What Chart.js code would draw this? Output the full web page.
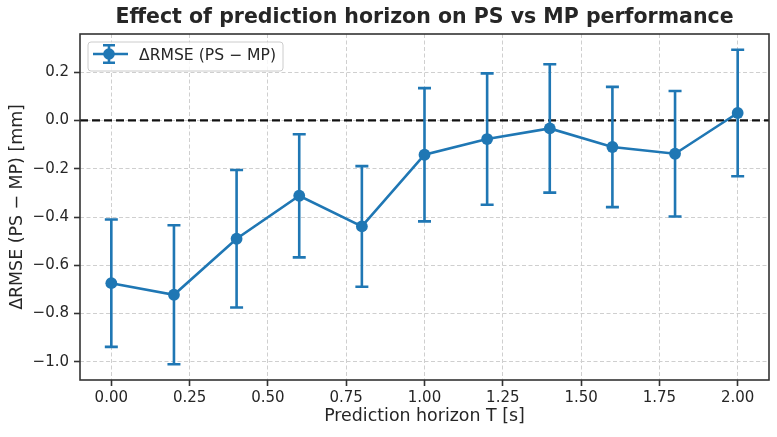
<!DOCTYPE html>
<html>
<head>
<meta charset="utf-8">
<script src="https://cdn.jsdelivr.net/npm/chart.js@4.4.1/dist/chart.umd.min.js"></script>
<style>
  body { margin: 0; background: #fff; }
  #wrap { width: 777px; height: 437px; }
</style>
</head>
<body>
<div id="wrap"><canvas id="chart" width="777" height="437"></canvas></div>
<script>
// prediction horizon T [s]
const horizon = [0.0, 0.2, 0.4, 0.6, 0.8, 1.0, 1.2, 1.4, 1.6, 1.8, 2.0];
// mean dRMSE (PS - MP) [mm]
const dRmse = [-0.674, -0.722, -0.490, -0.312, -0.439, -0.142, -0.077, -0.033, -0.110, -0.138, 0.031];
// error bar half-lengths
const dRmseErr = [0.264, 0.288, 0.285, 0.255, 0.250, 0.276, 0.272, 0.266, 0.249, 0.260, 0.262];

const xTicks = [0.0, 0.25, 0.5, 0.75, 1.0, 1.25, 1.5, 1.75, 2.0];
const yTicks = [-1.0, -0.8, -0.6, -0.4, -0.2, 0.0, 0.2];

const titleText = 'Effect of prediction horizon on PS vs MP performance';
const xLabel = 'Prediction horizon T [s]';
const yLabel = 'ΔRMSE (PS − MP) [mm]';
const legendText = 'ΔRMSE (PS − MP)';

const blue = '#1f77b4';
const font = "'DejaVu Sans', sans-serif";

// axis limits with matplotlib-like 5% margins
const lo = Math.min(...dRmse.map((v, i) => v - dRmseErr[i]));
const hi = Math.max(...dRmse.map((v, i) => v + dRmseErr[i]));
const yPad = (hi - lo) * 0.05;
const xPad = (horizon[horizon.length - 1] - horizon[0]) * 0.05;

const points = horizon.map((t, i) => ({ x: t, y: dRmse[i] }));

const extras = {
  id: 'extras',
  beforeDatasetsDraw(chart) {
    const { ctx, chartArea: a, scales: { x, y } } = chart;
    ctx.save();
    // zero reference line
    const y0 = y.getPixelForValue(0);
    ctx.strokeStyle = '#111';
    ctx.lineWidth = 2.2;
    ctx.setLineDash([8, 4]);
    ctx.beginPath();
    ctx.moveTo(a.left, y0);
    ctx.lineTo(a.right, y0);
    ctx.stroke();
    ctx.setLineDash([]);
    // error bars
    ctx.strokeStyle = blue;
    ctx.lineWidth = 2.6;
    horizon.forEach((t, i) => {
      const px = x.getPixelForValue(t);
      const top = y.getPixelForValue(dRmse[i] + dRmseErr[i]);
      const bot = y.getPixelForValue(dRmse[i] - dRmseErr[i]);
      ctx.beginPath();
      ctx.moveTo(px, top); ctx.lineTo(px, bot);
      ctx.moveTo(px - 6.5, top); ctx.lineTo(px + 6.5, top);
      ctx.moveTo(px - 6.5, bot); ctx.lineTo(px + 6.5, bot);
      ctx.stroke();
    });
    ctx.restore();
  },
  afterDraw(chart) {
    const { ctx, chartArea: a } = chart;
    ctx.save();
    // frame
    ctx.strokeStyle = '#333';
    ctx.lineWidth = 1.6;
    ctx.strokeRect(a.left, a.top, a.right - a.left, a.bottom - a.top);

    // title
    ctx.fillStyle = '#262626';
    ctx.textAlign = 'center';
    ctx.textBaseline = 'middle';
    ctx.font = 'bold 20.5px ' + font;
    ctx.fillText(titleText, (a.left + a.right) / 2, 18);

    // axis labels
    ctx.font = '17.4px ' + font;
    ctx.fillText(xLabel, (a.left + a.right) / 2, 416);
    ctx.translate(17, (a.top + a.bottom) / 2);
    ctx.rotate(-Math.PI / 2);
    ctx.fillText(yLabel, 0, 0);
    ctx.restore();

    // legend
    ctx.save();
    const lx = a.left + 8, ly = a.top + 8, lw = 195, lh = 29;
    ctx.fillStyle = 'rgba(255,255,255,0.8)';
    ctx.strokeStyle = '#cccccc';
    ctx.lineWidth = 1;
    ctx.beginPath();
    ctx.roundRect(lx, ly, lw, lh, 3);
    ctx.fill();
    ctx.stroke();
    const cy = ly + 12, cx = lx + 21;
    ctx.strokeStyle = blue;
    ctx.lineWidth = 2.6;
    ctx.beginPath();
    ctx.moveTo(lx + 5, cy); ctx.lineTo(lx + 40, cy);
    ctx.moveTo(cx, cy - 8.7); ctx.lineTo(cx, cy + 8.7);
    ctx.moveTo(cx - 6, cy - 8.7); ctx.lineTo(cx + 6, cy - 8.7);
    ctx.moveTo(cx - 6, cy + 8.7); ctx.lineTo(cx + 6, cy + 8.7);
    ctx.stroke();
    ctx.fillStyle = blue;
    ctx.beginPath();
    ctx.arc(cx, cy, 5.8, 0, Math.PI * 2);
    ctx.fill();
    ctx.fillStyle = '#262626';
    ctx.font = '15.6px ' + font;
    ctx.textAlign = 'left';
    ctx.textBaseline = 'middle';
    ctx.fillText(legendText, lx + 51, ly + 14);
    ctx.restore();
  }
};

const gridOpts = {
  color: '#cfcfcf',
  lineWidth: 1,
  tickColor: '#333',
  tickWidth: 1.6,
  tickLength: 6,
  tickBorderDash: [],
  drawTicks: true
};
const borderOpts = { display: false, dash: [4, 2.5] };

new Chart(document.getElementById('chart'), {
  type: 'scatter',
  data: {
    datasets: [{
      label: legendText,
      data: points,
      showLine: true,
      borderColor: blue,
      backgroundColor: blue,
      borderWidth: 2.6,
      pointRadius: 5.9,
      pointHoverRadius: 5.9,
      pointBorderWidth: 0,
      tension: 0
    }]
  },
  options: {
    responsive: false,
    animation: false,
    layout: { padding: { top: 34, right: 8, left: 0, bottom: 0 } },
    plugins: {
      legend: { display: false },
      title: { display: false },
      tooltip: { enabled: false }
    },
    scales: {
      x: {
        type: 'linear',
        min: horizon[0] - xPad,
        max: horizon[horizon.length - 1] + xPad,
        afterBuildTicks: s => { s.ticks = xTicks.map(v => ({ value: v })); },
        afterFit: s => { s.height = 57; },
        grid: gridOpts,
        border: borderOpts,
        ticks: {
          color: '#262626',
          font: { family: font, size: 15 },
          padding: 3,
          maxRotation: 0,
          callback: v => Number(v).toFixed(2)
        }
      },
      y: {
        type: 'linear',
        min: lo - yPad,
        max: hi + yPad,
        afterBuildTicks: s => { s.ticks = yTicks.map(v => ({ value: v })); },
        afterFit: s => { s.width = 80; },
        grid: gridOpts,
        border: borderOpts,
        ticks: {
          color: '#262626',
          font: { family: font, size: 15 },
          padding: 5,
          callback: v => Number(v).toFixed(1).replace('-', '−')
        }
      }
    }
  },
  plugins: [extras]
});
</script>
</body>
</html>
